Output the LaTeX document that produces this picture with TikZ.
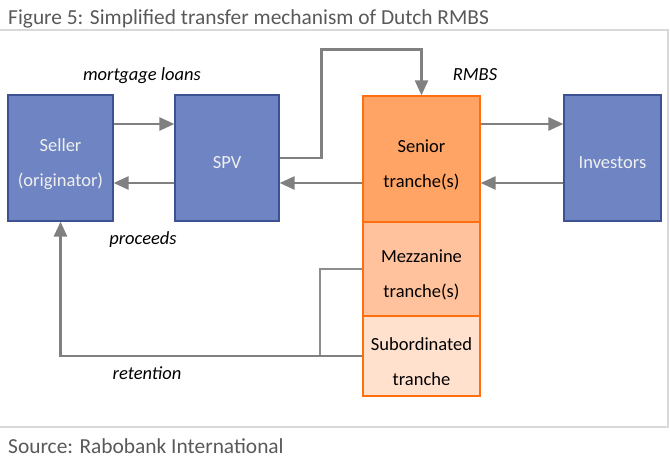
\documentclass[tikz,border=0pt]{standalone}
\usepackage{fontspec}
\setmainfont{Carlito}
\usepackage{xcolor}
\definecolor{rabblue}{HTML}{6F84C2}
\definecolor{rabblueline}{HTML}{3E5293}
\definecolor{raborange}{HTML}{FF6F10}
\definecolor{seniorfill}{HTML}{FFA464}
\definecolor{mezzfill}{HTML}{FFC29C}
\definecolor{subfill}{HTML}{FFE1CE}
\definecolor{flowgray}{HTML}{808080}
\definecolor{framegray}{HTML}{D9D9D9}
\definecolor{titlegray}{HTML}{595959}
\usetikzlibrary{calc,arrows.meta,positioning}

\begin{document}
\begin{tikzpicture}[x=1pt, y=-1pt, >={Triangle[length=15pt,width=13pt]},
		font=\fontsize{18.5}{22}\selectfont,
		party/.style={draw=rabblueline, fill=rabblue, line width=1.2pt, inner sep=0pt},
		tranche/.style={draw=raborange, line width=1.4pt, inner sep=0pt, minimum width=117pt},
		boxtext/.style={align=center, inner sep=0pt},
		flow/.style={->, draw=flowgray, line width=2.6pt},
		link/.style={draw=flowgray!90!white, line width=2pt},
		tag/.style={font=\fontsize{18.5}{22}\selectfont\itshape},
		caption/.style={anchor=base west, text=titlegray, inner sep=0pt, font=\fontsize{21.4}{24}\selectfont},
		frame/.style={draw=framegray, line width=2pt}]
			\useasboundingbox (0,0) rectangle (670,459);

			% frame and captions
			\draw[frame] (0,30) -- (668,30) -- (668,427) -- (0,427);
			\node[caption] (title) at (8,24) {Figure 5: Simplified transfer mechanism of Dutch RMBS};
			\node[caption] (source) at (8,453) {Source: Rabobank International};

			% parties
			\node[party, minimum width=105pt, minimum height=126pt] (seller) at (60.5,158) {};
			\node[party, minimum width=104pt, minimum height=126pt] (spv) at (227,158) {};
			\node[party, minimum width=97pt, minimum height=126pt] (inv) at (612.5,158) {};

			% tranches
			\node[tranche, fill=seniorfill, minimum height=126pt] (senior) at (421.5,159) {};
			\node[tranche, fill=mezzfill, minimum height=94pt] (mezz) at (421.5,269) {};
			\node[tranche, fill=subfill, minimum height=80pt] (sub) at (421.5,356) {};

			% box texts, set a little low as in Excel
			\node[boxtext, text=white!94!black] (seller-t) at ([yshift=-6pt]seller.center) {Seller\\[13pt](originator)};
			\node[boxtext, text=white!94!black] (spv-t) at ([yshift=-5pt]spv.center) {SPV};
			\node[boxtext, text=white!94!black] (inv-t) at ([yshift=-5pt]inv.center) {Investors};
			\node[boxtext] (senior-t) at ([yshift=-6pt]senior.center) {Senior\\[13pt]tranche(s)};
			\node[boxtext] (mezz-t) at ([yshift=-6pt]mezz.center) {Mezzanine\\[13pt]tranche(s)};
			\node[boxtext] (sub-t) at ([yshift=-6pt]sub.center) {Subordinated\\[13pt]tranche};

			\coordinate (upper) at (0,124);
			\coordinate (lower) at (0,183);

			% flows
			\draw[flow] (seller.east |- upper) -- (spv.west |- upper);
			\draw[flow] (spv.west |- lower) -- (seller.east |- lower);
			\draw[flow] (senior.west |- lower) -- (spv.east |- lower);
			\draw[flow] (senior.east |- upper) -- (inv.west |- upper);
			\draw[flow] (inv.west |- lower) -- (senior.east |- lower);
			\draw[flow] (spv.east) -- ++(42,0) |- ($(senior.north)+(0,-46)$) -- (senior.north);
			\draw[link] (mezz.west) -- ++(-42,0) |- (sub.west);
			\draw[flow] (sub.west) -- (sub.west -| seller.south) -- (seller.south);

			% labels
			\node[tag] (loans) at (142,76) {mortgage loans};
			\node[tag] (proceeds) at (143,240) {proceeds};
			\node[tag] (rmbs) at (475,75) {RMBS};
			\node[tag] (retention) at (147,373) {retention};
		\end{tikzpicture}
\end{document}
